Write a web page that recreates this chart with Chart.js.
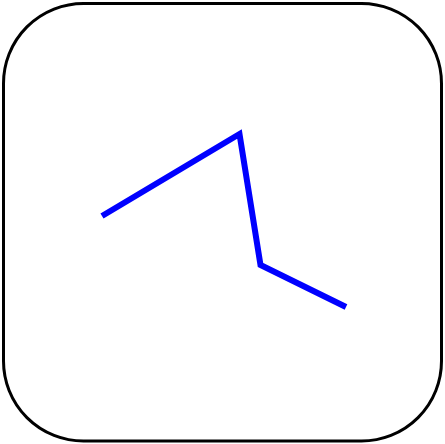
<!DOCTYPE html>
<html>
<head>
<meta charset="utf-8">
<script src="https://cdn.jsdelivr.net/npm/chart.js@4"></script>
<style>
  html, body { margin: 0; padding: 0; background: #fff; }
  #wrap { width: 445px; height: 444px; }
</style>
</head>
<body>
<div id="wrap"><canvas id="c" width="445" height="444"></canvas></div>
<script>
// Data
const xValues = [102, 239.5, 260.5, 346];
const yValues = [216, 134, 265, 307];

const points = xValues.map((x, i) => ({ x: x, y: yValues[i] }));

const framePlugin = {
  id: 'frame',
  beforeDatasetsDraw(chart) {
    const ctx = chart.ctx;
    const xs = chart.scales.x, ys = chart.scales.y;
    const l = xs.getPixelForValue(3.5), r = xs.getPixelForValue(441.5);
    const t = ys.getPixelForValue(3.5), b = ys.getPixelForValue(441);
    const rad = 80;
    ctx.save();
    ctx.beginPath();
    ctx.moveTo(l + rad, t);
    ctx.lineTo(r - rad, t);
    ctx.arcTo(r, t, r, t + rad, rad);
    ctx.lineTo(r, b - rad);
    ctx.arcTo(r, b, r - rad, b, rad);
    ctx.lineTo(l + rad, b);
    ctx.arcTo(l, b, l, b - rad, rad);
    ctx.lineTo(l, t + rad);
    ctx.arcTo(l, t, l + rad, t, rad);
    ctx.closePath();
    ctx.lineWidth = 3;
    ctx.strokeStyle = '#000';
    ctx.stroke();
    ctx.restore();
  }
};

new Chart(document.getElementById('c'), {
  type: 'scatter',
  data: {
    datasets: [{
      data: points,
      showLine: true,
      borderColor: '#0000ff',
      backgroundColor: '#0000ff',
      borderWidth: 6,
      borderJoinStyle: 'miter',
      borderCapStyle: 'butt',
      pointRadius: 0,
      tension: 0
    }]
  },
  options: {
    responsive: false,
    animation: false,
    devicePixelRatio: 1,
    layout: { padding: 0 },
    plugins: { legend: { display: false }, tooltip: { enabled: false } },
    scales: {
      x: { type: 'linear', min: 0, max: 445, display: false },
      y: { type: 'linear', min: 0, max: 444, reverse: true, display: false }
    }
  },
  plugins: [framePlugin]
});
</script>
</body>
</html>
